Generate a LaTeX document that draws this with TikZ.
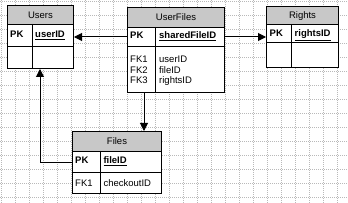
\documentclass[tikz,border=0pt]{standalone}
\usepackage{fontspec}
\setmainfont{Liberation Sans}
\usetikzlibrary{arrows.meta,positioning,calc}
\definecolor{HeadGray}{RGB}{200,200,200}
\definecolor{GridGray}{RGB}{185,185,185}

\tikzset{
  tblbox/.style={draw,fill=white,line width=1pt,anchor=north west,inner sep=0pt},
  tblhead/.style={tblbox,fill=HeadGray,text height=6.8pt,text depth=0pt},
  fld/.style={anchor=base west,inner sep=0pt},
  link/.style={line width=1pt,-{Triangle[length=8pt,width=8pt]}},
  gridline/.style={GridGray,line width=0.6pt,dash pattern=on 1pt off 1pt}
}

\begin{document}
\begin{tikzpicture}[x=1pt,y=-1pt,font=\fontsize{9.5}{10.5}\selectfont]
  \useasboundingbox (0,0) rectangle (348,203);
  % dotted background grid
  \foreach \gx in {1,15,...,347} \draw[gridline] (\gx,0) -- (\gx,203);
  \foreach \gy in {1,15,...,203} \draw[gridline] (0,\gy) -- (348,\gy);

  % Users
  \node[tblbox,minimum width=66pt,minimum height=63pt] (users) at (7,5) {};
  \node[tblhead,minimum width=66pt,minimum height=19pt] (users-head) at (7,5) {Users};
  \node[tblbox,minimum width=66pt,minimum height=22pt] (users-pk) at (7,24) {};
  \draw[line width=1pt] ([xshift=25pt]users-pk.north west) -- ([xshift=25pt]users.south west);
  \node[fld] (users-pkl) at (10,37.5) {\textbf{PK}};
  \node[fld] (users-key) at (35,37.5) {\textbf{\underline{userID}}};

  % UserFiles
  \node[tblbox,minimum width=97pt,minimum height=85pt] (userfiles) at (127,7) {};
  \node[tblhead,minimum width=97pt,minimum height=20pt] (userfiles-head) at (127,7) {UserFiles};
  \node[tblbox,minimum width=97pt,minimum height=19pt] (userfiles-pk) at (127,27) {};
  \draw[line width=1pt] ([xshift=28pt]userfiles-pk.north west) -- ([xshift=28pt]userfiles.south west);
  \node[fld] (userfiles-pkl) at (130,38.5) {\textbf{PK}};
  \node[fld] (userfiles-key) at (159,38.5) {\textbf{\underline{sharedFileID}}};
  \node[fld] (userfiles-fk1) at (130,63) {FK1};
  \node[fld] (userfiles-fk2) at (130,73.5) {FK2};
  \node[fld] (userfiles-fk3) at (130,84) {FK3};
  \node[fld] (userfiles-user) at (159,63) {userID};
  \node[fld] (userfiles-file) at (159,73.5) {fileID};
  \node[fld] (userfiles-right) at (159,84) {rightsID};

  % Rights
  \node[tblbox,minimum width=72pt,minimum height=61pt] (rights) at (266,6) {};
  \node[tblhead,minimum width=72pt,minimum height=18pt] (rights-head) at (266,6) {Rights};
  \node[tblbox,minimum width=72pt,minimum height=18pt] (rights-pk) at (266,24) {};
  \draw[line width=1pt] ([xshift=25pt]rights-pk.north west) -- ([xshift=25pt]rights.south west);
  \node[fld] (rights-pkl) at (269.5,36.7) {\textbf{PK}};
  \node[fld] (rights-key) at (294.5,36.7) {\textbf{\underline{rightsID}}};

  % Files
  \node[tblbox,minimum width=89pt,minimum height=62pt] (files) at (72,131) {};
  \node[tblhead,minimum width=89pt,minimum height=20pt] (files-head) at (72,131) {Files};
  \node[tblbox,minimum width=89pt,minimum height=21pt] (files-pk) at (72,151) {};
  \draw[line width=1pt] ([xshift=28pt]files-pk.north west) -- ([xshift=28pt]files.south west);
  \node[fld] (files-pkl) at (75,163.3) {\textbf{PK}};
  \node[fld] (files-key) at (103.3,163.3) {\textbf{\underline{fileID}}};
  \node[fld] (files-fk1) at (75,186) {FK1};
  \node[fld] (files-co) at (103.3,186) {checkoutID};

  % links
  \draw[link] (userfiles-pk.west) -- (userfiles-pk.west -| users.east);
  \draw[link] (userfiles-pk.east) -- (userfiles-pk.east -| rights.west);
  \draw[link] ([xshift=17pt]userfiles.south west) -- ([xshift=17pt]userfiles.south west |- files.north);
  \draw[link] (files-pk.west) -| ([xshift=33pt]users.south west);
\end{tikzpicture}
\end{document}
